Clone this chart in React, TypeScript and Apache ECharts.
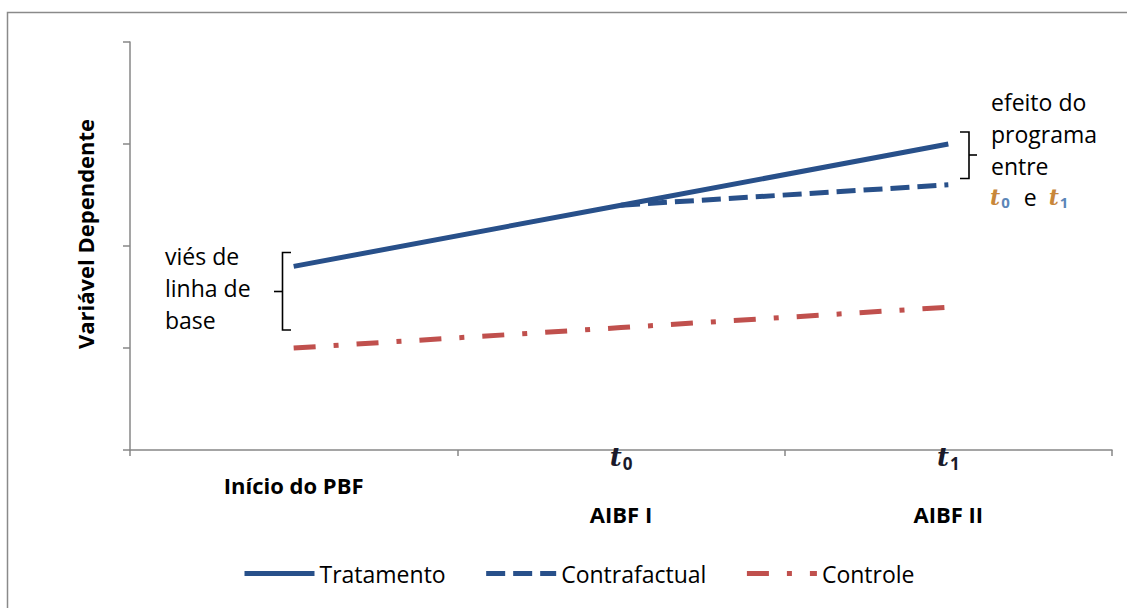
import React, { useEffect, useRef } from "react";
import * as echarts from "echarts";

const categories = ["Início do PBF", "AIBF I", "AIBF II"];
const periodSubscripts = ["", "0", "1"];
const tratamento = [1.8, 2.4, 3.0];
const contrafactual: (number | string)[] = ["-", 2.4, 2.6];
const controle = [1.0, 1.2, 1.4];
const yTicks = { min: 0, max: 4, interval: 1 };

const BLUE = "#28508A";
const RED = "#C0504D";
const AXIS = "#878787";
const FONT = "'Open Sans', 'Noto Sans', sans-serif";
const SERIF = "'DejaVu Serif', serif";

export default function App() {
  const ref = useRef<HTMLDivElement>(null);
  useEffect(() => {
    const chart = echarts.init(ref.current!, null, { renderer: "svg" });
    chart.setOption({
      animation: false,
      backgroundColor: "#ffffff",
      textStyle: { fontFamily: FONT },
      grid: { left: 130, right: 15, top: 42, bottom: 158, containLabel: false },
      legend: {
        left: 237,
        top: 557,
        itemWidth: 70,
        itemHeight: 14,
        itemGap: 38,
        itemStyle: { opacity: 0 },
        lineStyle: { width: 5 },
        textStyle: { fontFamily: FONT, fontSize: 23, color: "#000" },
        data: ["Tratamento", "Contrafactual", "Controle"],
      },
      xAxis: {
        type: "category",
        data: categories,
        boundaryGap: true,
        axisLine: { lineStyle: { color: AXIS, width: 1.5 } },
        axisTick: { show: true, length: 6, interval: 0, lineStyle: { color: AXIS, width: 1.5 } },
        axisLabel: {
          interval: 0,
          margin: -3,
          formatter: (value: string, index: number) =>
            index === 0
              ? "{sp| }\n{m|" + value + "}"
              : "{t|t}{sub|" + periodSubscripts[index] + "}\n{sp2| }\n{n|" + value + "}",
          rich: {
            sp: { lineHeight: 20, fontSize: 10 },
            sp2: { lineHeight: 36, fontSize: 10 },
            m: { fontFamily: FONT, fontWeight: "bold", fontSize: 22, lineHeight: 36, color: "#000" },
            n: { fontFamily: FONT, fontWeight: "bold", fontSize: 22, lineHeight: 22, color: "#000" },
            t: { fontFamily: SERIF, fontStyle: "italic", fontWeight: "bold", fontSize: 26, lineHeight: 20, color: "#1a1a2a" },
            sub: { fontFamily: FONT, fontWeight: "bold", fontSize: 17, lineHeight: 20, color: "#1a1a2a", padding: [12, 0, 0, 1] },
          },
        },
        splitLine: { show: false },
      },
      yAxis: {
        type: "value",
        min: yTicks.min,
        max: yTicks.max,
        interval: yTicks.interval,
        axisLine: { show: true, lineStyle: { color: AXIS, width: 1.5 } },
        axisTick: { show: true, length: 7, lineStyle: { color: AXIS, width: 1.5 } },
        axisLabel: { show: false },
        splitLine: { show: false },
      },
      series: [
        {
          name: "Tratamento",
          type: "line",
          data: tratamento,
          symbol: "none",
          lineStyle: { color: BLUE, width: 5 },
          itemStyle: { color: BLUE },
          z: 2,
        },
        {
          name: "Contrafactual",
          type: "line",
          data: contrafactual,
          symbol: "none",
          lineStyle: { color: BLUE, width: 5, type: [19, 8] },
          itemStyle: { color: BLUE },
          z: 3,
        },
        {
          name: "Controle",
          type: "line",
          data: controle,
          symbol: "none",
          lineStyle: { color: RED, width: 5, type: [22, 18, 5, 18] },
          itemStyle: { color: RED },
          z: 2,
        },
      ],
      graphic: [
        {
          type: "polyline",
          silent: true,
          shape: { points: [[7.5, 620], [7.5, 12.5], [1140, 12.5]] },
          style: { fill: "none", stroke: "#8a8a8a", lineWidth: 1.5 },
        },
        {
          type: "text",
          x: 85,
          y: 234,
          rotation: Math.PI / 2,
          style: {
            text: "Variável Dependente",
            fontFamily: FONT,
            fontWeight: "bold",
            fontSize: 22,
            fill: "#000",
            align: "center",
            verticalAlign: "middle",
          },
        },
        {
          type: "text",
          x: 165,
          y: 240,
          style: {
            text: "viés de\nlinha de\nbase",
            fontFamily: FONT,
            fontSize: 23,
            lineHeight: 32,
            fill: "#000",
            align: "left",
            verticalAlign: "top",
          },
        },
        {
          type: "polyline",
          shape: { points: [[291, 252.5], [282.5, 252.5], [282.5, 330], [291, 330]] },
          style: { stroke: "#000", lineWidth: 1.6, fill: "none" },
        },
        {
          type: "line",
          shape: { x1: 274, y1: 291.5, x2: 282.5, y2: 291.5 },
          style: { stroke: "#000", lineWidth: 1.6 },
        },
        {
          type: "text",
          x: 991,
          y: 86,
          style: {
            text: "efeito do\nprograma\nentre",
            fontFamily: FONT,
            fontSize: 23,
            lineHeight: 32,
            fill: "#000",
            align: "left",
            verticalAlign: "top",
          },
        },
        {
          type: "polyline",
          shape: { points: [[960, 132], [969, 132], [969, 178.5], [960, 178.5]] },
          style: { stroke: "#000", lineWidth: 1.6, fill: "none" },
        },
        {
          type: "line",
          shape: { x1: 969, y1: 155, x2: 977, y2: 155 },
          style: { stroke: "#000", lineWidth: 1.6 },
        },
        {
          type: "text",
          x: 990,
          y: 197,
          style: {
            text: "{t|t}{s|0}{e|e}{t|t}{s|1}",
            align: "left",
            verticalAlign: "middle",
            rich: {
              t: { fontFamily: SERIF, fontStyle: "italic", fontWeight: "bold", fontSize: 22, fill: "#C8873A", lineHeight: 24 },
              s: { fontFamily: FONT, fontWeight: "bold", fontSize: 15, fill: "#5B86B8", lineHeight: 24, padding: [9, 0, 0, 1] },
              e: { fontFamily: FONT, fontSize: 23, fill: "#000", lineHeight: 24, padding: [0, 12, 0, 14] },
            },
          },
        },
      ],
    });
    return () => chart.dispose();
  }, []);
  return (
    <div
      ref={ref}
      style={{ position: "fixed", left: 0, top: 0, width: 1127, height: 608 }}
    />
  );
}
